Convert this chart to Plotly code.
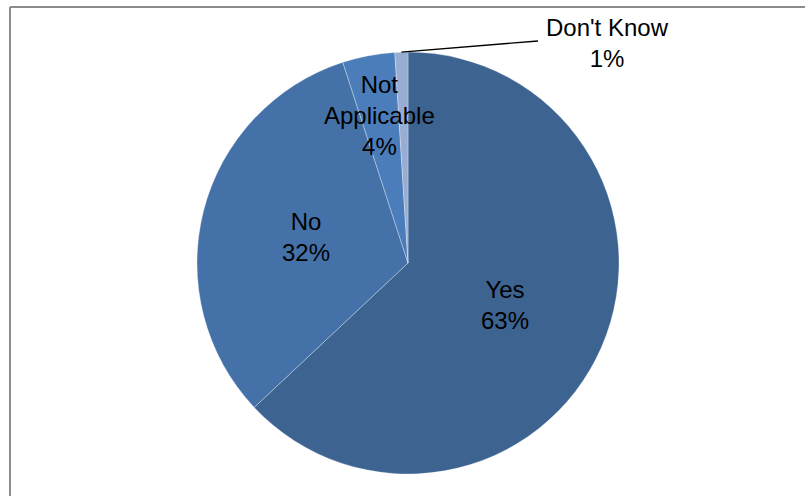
import math
import plotly.graph_objects as go

# Survey answers, clockwise from 12 o'clock
labels = ["Yes", "No", "Not Applicable", "Don't Know"]
values = [63, 32, 4, 1]
colors = ["#3D6391", "#4472A8", "#4A7DBA", "#98ADD3"]

W, H = 805, 496
CX, CY, R = 408, 263, 211  # pie centre and radius in pixels

fig = go.Figure(go.Pie(
    labels=labels,
    values=values,
    sort=False,
    direction="clockwise",
    rotation=0,
    textinfo="none",
    marker=dict(colors=colors, line=dict(color="rgba(255,255,255,0.3)", width=1)),
    domain=dict(x=[(CX - R) / W, (CX + R) / W],
                y=[(H - CY - R) / H, (H - CY + R) / H]),
    showlegend=False,
))

FONT = dict(family="Liberation Sans, Arial, sans-serif", size=24, color="#000000")
total = sum(values)


def px_to_paper(x, y):
    return x / W, 1 - y / H


# label placement: radial fraction of R for inside labels
label_text = {"Yes": "Yes", "No": "No", "Not Applicable": "Not<br>Applicable", "Don't Know": "Don't Know"}
radial = {"Yes": 0.5, "No": 0.5, "Not Applicable": 0.71}

cum = 0
for lab, v in zip(labels, values):
    mid = (cum + v / 2) / total * 2 * math.pi
    cum += v
    pct = f"{round(100 * v / total)}%"
    if lab in radial:
        f = radial[lab]
        x = CX + f * R * math.sin(mid)
        y = CY - f * R * math.cos(mid)
        px, py = px_to_paper(x, y)
        fig.add_annotation(x=px, y=py, xref="paper", yref="paper",
                           xanchor="center", yanchor="middle",
                           text=f"{label_text[lab]}<br>{pct}", showarrow=False,
                           font=FONT, align="center")
    else:
        # outside label with leader line from the slice edge
        x0 = CX + R * math.sin(mid)
        y0 = CY - R * math.cos(mid)
        x1, y1 = 538, 41
        p0 = px_to_paper(x0, y0)
        p1 = px_to_paper(x1, y1)
        fig.add_shape(type="line", xref="paper", yref="paper",
                      x0=p0[0], y0=p0[1], x1=p1[0], y1=p1[1],
                      line=dict(color="#000000", width=1.3))
        tx, ty = px_to_paper(607, 43)
        fig.add_annotation(x=tx, y=ty, xref="paper", yref="paper",
                           xanchor="center", yanchor="middle",
                           text=f"{label_text[lab]}<br>{pct}", showarrow=False,
                           font=FONT, align="center")

# chart frame (left and top edges visible)
fx, fy = px_to_paper(10, 7)
fig.add_shape(type="line", xref="paper", yref="paper", x0=fx, y0=-0.05, x1=fx, y1=fy,
              line=dict(color="#8C8C8C", width=2))
fig.add_shape(type="line", xref="paper", yref="paper", x0=fx, y0=fy, x1=1.05, y1=fy,
              line=dict(color="#8C8C8C", width=2))

fig.update_layout(
    width=W, height=H,
    margin=dict(l=0, r=0, t=0, b=0),
    paper_bgcolor="#FFFFFF",
    plot_bgcolor="#FFFFFF",
)

fig.write_html("out.html")
